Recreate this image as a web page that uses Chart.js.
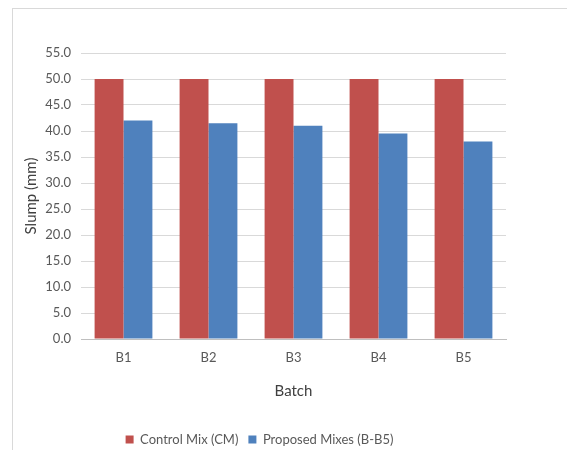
<!DOCTYPE html>
<html>
<head>
<meta charset="utf-8">
<script src="https://cdn.jsdelivr.net/npm/chart.js@4/dist/chart.umd.min.js"></script>
<style>
  html, body { margin: 0; padding: 0; background: #fff; overflow: hidden; }
  #frame {
    position: absolute; left: 12px; top: 8px;
    width: 555px; height: 442px;
    border-left: 1px solid #d9d9d9; border-top: 1px solid #d9d9d9;
    box-sizing: border-box;
  }
  #wrap { position: absolute; left: 0; top: 0; width: 554px; height: 447px; }
</style>
</head>
<body>
<div id="frame"><div id="wrap"><canvas id="c"></canvas></div></div>
<script>
// Slump per batch: control mix vs proposed mixes
const batches = ['B1', 'B2', 'B3', 'B4', 'B5'];
const controlMix = [50, 50, 50, 50, 50];
const proposedMixes = [42, 41.5, 41, 39.5, 38];
const seriesNames = ['Control Mix (CM)', 'Proposed Mixes (B-B5)'];

const FONT = 'Lato, "Open Sans", sans-serif';
const TEXT = '#595959';

new Chart(document.getElementById('c'), {
  type: 'bar',
  data: {
    labels: batches,
    datasets: [
      { label: seriesNames[0], data: controlMix, backgroundColor: '#C0504D' },
      { label: seriesNames[1], data: proposedMixes, backgroundColor: '#4F81BD' }
    ]
  },
  options: {
    responsive: true,
    maintainAspectRatio: false,
    animation: false,
    layout: { padding: { left: 0, right: 61, top: 44, bottom: 0 } },
    datasets: { bar: { barPercentage: 1.0, categoryPercentage: 0.68 } },
    plugins: {
      tooltip: { enabled: false },
      legend: {
        position: 'bottom',
        labels: {
          color: TEXT, font: { family: FONT, size: 13 },
          boxWidth: 8, boxHeight: 8, padding: 10
        }
      }
    },
    scales: {
      x: {
        grid: { display: false, drawTicks: false },
        border: { color: '#bfbfbf', width: 1 },
        ticks: { color: TEXT, font: { family: FONT, size: 13 }, padding: 11 },
        title: {
          display: true, text: 'Batch', color: '#404040',
          font: { family: FONT, size: 15 }, padding: { top: 18, bottom: 23 }
        },
        afterFit: (s) => { s.height = 84; }
      },
      y: {
        min: 0, max: 55,
        ticks: {
          stepSize: 5, color: TEXT, font: { family: FONT, size: 13 }, padding: 10,
          callback: (v) => Number(v).toFixed(1)
        },
        grid: { color: '#d9d9d9', drawTicks: false },
        border: { display: false },
        title: {
          display: true, text: 'Slump (mm)', color: '#404040',
          font: { family: FONT, size: 15 }, padding: { top: 9, bottom: 8 }
        },
        afterFit: (s) => { s.width = 68; }
      }
    }
  }
});
</script>
</body>
</html>
